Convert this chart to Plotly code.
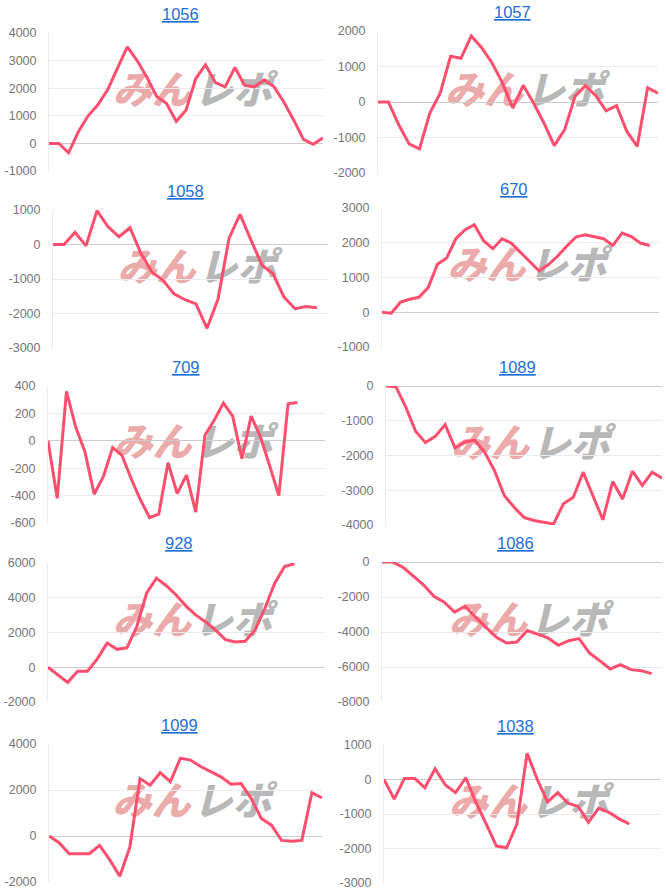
import plotly.graph_objects as go

# ---------------- data ----------------
titles = ["1056", "1057", "1058", "670", "709", "1089", "928", "1086", "1099", "1038"]
slots = [29, 28, 26, 31, 31, 29, 29, 28, 28, 28]

v1056 = [0, 0, -340, 420, 1000, 1400, 1950, 2700, 3500, 3000, 2400, 1700, 1450, 800, 1200,
         2350, 2850, 2200, 2050, 2750, 2100, 2050, 2300, 2050, 1500, 850, 150, -30, 200]
v1057 = [0, 0, -640, -1180, -1320, -310, 250, 1290, 1230, 1860, 1530, 1100, 540, -170, 470,
         -30, -590, -1230, -780, 160, 460, 180, -250, -100, -830, -1250, 400, 250]
v1058 = [0, 0, 350, -40, 980, 515, 225, 485, -260, -800, -1040, -1430, -1600, -1720, -2430,
         -1590, 175, 875, 125, -600, -850, -1525, -1860, -1800, -1830]
v670 = [0, -30, 290, 375, 430, 710, 1380, 1560, 2115, 2375, 2520, 2060, 1830, 2115, 1990,
        1730, 1480, 1190, 1365, 1610, 1900, 2165, 2230, 2180, 2115, 1920, 2280, 2180, 1990, 1920]
v709 = [0, -420, 360, 100, -80, -390, -260, -50, -105, -275, -430, -560, -535, -160, -385,
        -250, -520, 40, 150, 275, 180, -130, 180, 30, -180, -400, 270, 280]
v1089 = [0, -20, -600, -1300, -1630, -1450, -1110, -1780, -1610, -1560, -1900, -2430, -3150,
         -3490, -3780, -3870, -3920, -3970, -3390, -3200, -2480, -3150, -3850, -2750, -3250,
         -2450, -2860, -2480, -2650]
v928 = [0, -430, -870, -230, -230, 480, 1390, 1030, 1120, 2320, 4260, 5130, 4690, 4160, 3520,
        3000, 2610, 2130, 1590, 1450, 1490, 2130, 3380, 4840, 5800, 5960]
v1086 = [0, 0, -290, -780, -1300, -1960, -2300, -2860, -2530, -3140, -3710, -4290, -4630,
         -4570, -3920, -4150, -4340, -4760, -4500, -4380, -5200, -5640, -6110, -5870, -6150,
         -6210, -6380]
v1099 = [0, -290, -770, -770, -770, -410, -1030, -1750, -480, 2500, 2210, 2750, 2360, 3380,
         3300, 3020, 2800, 2570, 2250, 2280, 1630, 760, 470, -190, -230, -190, 1880, 1660]
v1038 = [0, -570, 30, 30, -240, 310, -160, -380, 50, -670, -1290, -1930, -1980, -1290, 760,
         0, -650, -380, -690, -780, -1240, -830, -950, -1140, -1290]
values = [v1056, v1057, v1058, v670, v709, v1089, v928, v1086, v1099, v1038]

yt1056 = [-1000, 0, 1000, 2000, 3000, 4000]
yt1057 = [-2000, -1000, 0, 1000, 2000]
yt1058 = [-3000, -2000, -1000, 0, 1000]
yt670 = [-1000, 0, 1000, 2000, 3000]
yt709 = [-600, -400, -200, 0, 200, 400]
yt1089 = [-4000, -3000, -2000, -1000, 0]
yt928 = [-2000, 0, 2000, 4000, 6000]
yt1086 = [-8000, -6000, -4000, -2000, 0]
yt1099 = [-2000, 0, 2000, 4000]
yt1038 = [-3000, -2000, -1000, 0, 1000]
yticks = [yt1056, yt1057, yt1058, yt670, yt709, yt1089, yt928, yt1086, yt1099, yt1038]

# ---------------- layout (pixels) ----------------
W, H = 666, 888
plot_x = [(49, 323), (378, 658), (53, 328), (382, 659), (48, 325),
          (386, 662), (48, 324), (382, 662), (49, 322), (384, 660)]
plot_y = [(33, 171), (31, 173), (210, 348), (208, 347), (386, 523),
          (386, 525), (563, 702), (562, 702), (744, 882), (745, 883)]
title_pos = [(180, 14), (512, 12), (185, 191), (514, 189), (186, 367),
             (517, 367), (179, 543), (515, 543), (179, 725), (515, 726)]

LINE = "#ff4f6e"
GRID = "#ebebeb"
ZERO = "#cccccc"
TICKC = "#757575"

fig = go.Figure()
layout = dict(
    template="none",
    width=W, height=H,
    margin=dict(l=0, r=0, t=0, b=0, autoexpand=False),
    paper_bgcolor="white",
    plot_bgcolor="rgba(0,0,0,0)",
    showlegend=False,
    annotations=[],
)

# full-page pixel axes for watermark (drawn first, underneath)
layout["xaxis"] = dict(domain=[0, 1], range=[0, W], visible=False, fixedrange=True,
                       automargin=False)
layout["yaxis"] = dict(domain=[0, 1], range=[H, 0], visible=False, fixedrange=True,
                       automargin=False)
wm_x_pink, wm_x_gray, wm_y = [], [], []
for (x0, x1), (y0, y1) in zip(plot_x, plot_y):
    cx = (x0 + x1) / 2
    cy = (y0 + y1) / 2 - 8
    wm_x_pink.append(cx + 5)
    wm_x_gray.append(cx + 8)
    wm_y.append(cy)
fig.add_trace(go.Scatter(x=wm_x_pink, y=wm_y, mode="text", text=["みん"] * len(wm_y),
                         textposition="middle left", xaxis="x", yaxis="y", hoverinfo="skip",
                         textfont=dict(family="Noto Sans CJK JP", size=39, color="#ebabab",
                                       weight=900, style="italic")))
fig.add_trace(go.Scatter(x=wm_x_gray, y=wm_y, mode="text", text=["レポ"] * len(wm_y),
                         textposition="middle right", xaxis="x", yaxis="y", hoverinfo="skip",
                         textfont=dict(family="Noto Sans CJK JP", size=39, color="#b8b8b8",
                                       weight=900, style="italic")))

for i, (t, vals, yt, n) in enumerate(zip(titles, values, yticks, slots)):
    k = i + 2
    xa, ya = f"xaxis{k}", f"yaxis{k}"
    (x0, x1), (y0, y1) = plot_x[i], plot_y[i]
    layout[xa] = dict(domain=[x0 / W, x1 / W], range=[0, n - 1], anchor=f"y{k}",
                      showgrid=False, zeroline=False, showticklabels=False,
                      showline=False, ticks="", fixedrange=True, automargin=False)
    layout[ya] = dict(domain=[1 - y1 / H, 1 - y0 / H], range=[min(yt), max(yt)],
                      anchor=f"x{k}", tickmode="array", tickvals=yt,
                      ticktext=[str(v) for v in yt],
                      showgrid=True, gridcolor=GRID, gridwidth=1,
                      zeroline=True, zerolinecolor=ZERO, zerolinewidth=1,
                      showline=True, linecolor=GRID, linewidth=1,
                      ticks="", ticklabelstandoff=9, automargin=False,
                      ticklabeloverflow="allow",
                      tickfont=dict(family="Arial, Liberation Sans", size=12.5, color=TICKC),
                      fixedrange=True)
    fig.add_trace(go.Scatter(x=list(range(len(vals))), y=vals, mode="lines",
                             line=dict(color=LINE, width=3), xaxis=f"x{k}", yaxis=f"y{k}",
                             hoverinfo="skip"))
    tx, ty = title_pos[i]
    layout["annotations"].append(dict(
        text=t, xref="paper", yref="paper", x=tx / W, y=1 - ty / H,
        xanchor="center", yanchor="middle", showarrow=False,
        font=dict(family="Arial, Liberation Sans", size=16.5, color="#1e6ed6",
                  lineposition="under")))

fig.update_layout(**layout)
fig.write_html("out.html",
               config={"displayModeBar": False, "staticPlot": True},
               post_script="document.body.style.margin='0';document.body.style.overflow='hidden';")
